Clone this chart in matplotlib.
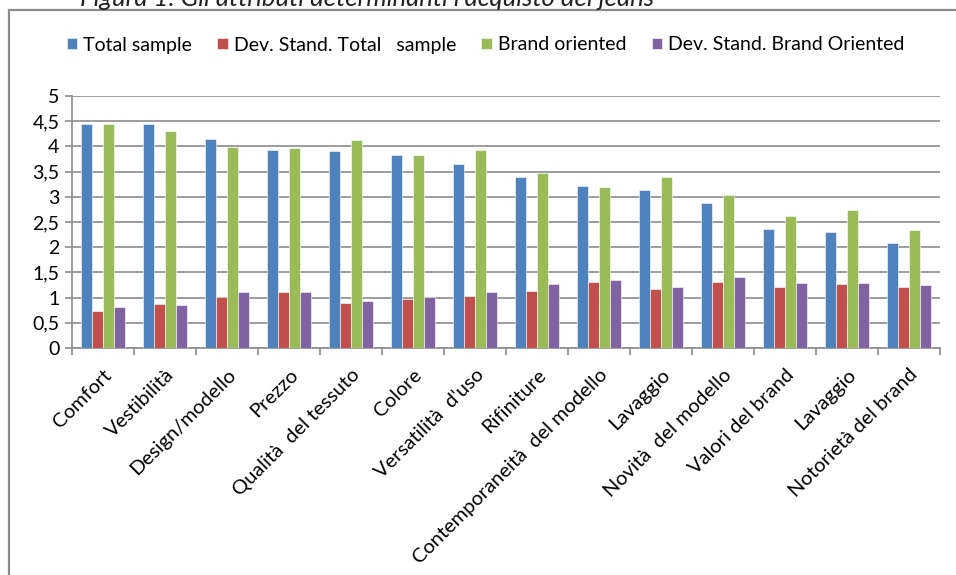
import matplotlib
matplotlib.use("Agg")
import matplotlib.pyplot as plt
import matplotlib.patches as mpatches
import numpy as np

categories = ["Comfort", "Vestibilità", "Design/modello", "Prezzo", "Qualità  del tessuto",
              "Colore", "Versatilità  d'uso", "Rifiniture", "Contemporaneità  del modello",
              "Lavaggio", "Novità  del modello", "Valori del brand", "Lavaggio",
              "Notorietà del brand"]
total_sample = [4.44, 4.45, 4.14, 3.93, 3.91, 3.82, 3.65, 3.39, 3.21, 3.13, 2.87, 2.37, 2.30, 2.08]
dev_total = [0.73, 0.87, 1.01, 1.11, 0.89, 0.98, 1.04, 1.14, 1.30, 1.18, 1.31, 1.22, 1.27, 1.22]
brand_oriented = [4.44, 4.31, 3.98, 3.96, 4.13, 3.82, 3.93, 3.48, 3.19, 3.39, 3.03, 2.62, 2.73, 2.35]
dev_brand = [0.81, 0.85, 1.12, 1.12, 0.93, 1.01, 1.12, 1.26, 1.34, 1.21, 1.40, 1.28, 1.29, 1.25]

series = [("Total sample", total_sample, "#4F81BD"),
          ("Dev. Stand. Total   sample", dev_total, "#C0504D"),
          ("Brand oriented", brand_oriented, "#9BBB59"),
          ("Dev. Stand. Brand Oriented", dev_brand, "#8064A2")]

plt.rcParams['font.family'] = ['Lato', 'DejaVu Sans']

fig = plt.figure(figsize=(9.56, 5.75), dpi=100)
ax = fig.add_axes([72/956, 1-348/575, 868/956, 252/575])

# outer chart border, runs past the right and bottom edges
fig.patches.append(mpatches.Rectangle((9/956, -0.2), 1.2, 1.2-10/575, transform=fig.transFigure,
                                      fill=False, edgecolor="#8c8c8c", linewidth=1.6))
fig.text(80/956, 1+1/575, "Figura 1: Gli attributi determinanti l'acquisto dei jeans",
         fontsize=18.5, style="italic", ha="left", va="center", color="#222222")

x = np.arange(len(categories))
w = 0.18
for i, (name, vals, col) in enumerate(series):
    ax.bar(x + (i - 1.5) * w, vals, w, color=col, label=name,
           edgecolor="white", linewidth=0.4, zorder=3)

ax.set_xlim(-0.5, len(categories) - 0.5)
ax.set_ylim(0, 5)
ax.set_yticks(np.arange(0, 5.01, 0.5))
ax.set_yticklabels(["0", "0,5", "1", "1,5", "2", "2,5", "3", "3,5", "4", "4,5", "5"], fontsize=14)
ax.grid(axis="y", color="#8c8c8c", linewidth=1.2, zorder=0)
ax.set_axisbelow(True)
for s in ["top", "right"]:
    ax.spines[s].set_visible(False)
for s in ["left", "bottom"]:
    ax.spines[s].set_color("#8c8c8c")
    ax.spines[s].set_linewidth(1.2)
ax.tick_params(axis="y", direction="out", length=5, color="#8c8c8c", width=1.2, pad=4)

ax.set_xticks(x)
ax.set_xticklabels(categories, rotation=45, ha="right", rotation_mode="anchor", fontsize=14.5)
ax.tick_params(axis="x", which="major", length=0, pad=13)
ax.set_xticks(np.arange(-0.5, len(categories)), minor=True)
ax.tick_params(axis="x", which="minor", direction="out", length=5, color="#8c8c8c", width=1.2)

fig.legend(loc="center", bbox_to_anchor=(0.508, 1-45/575), ncol=4, frameon=False,
           fontsize=14, handlelength=0.55, handleheight=0.55, handletextpad=0.3,
           columnspacing=1.3)

fig.savefig("out.png", dpi=100)
